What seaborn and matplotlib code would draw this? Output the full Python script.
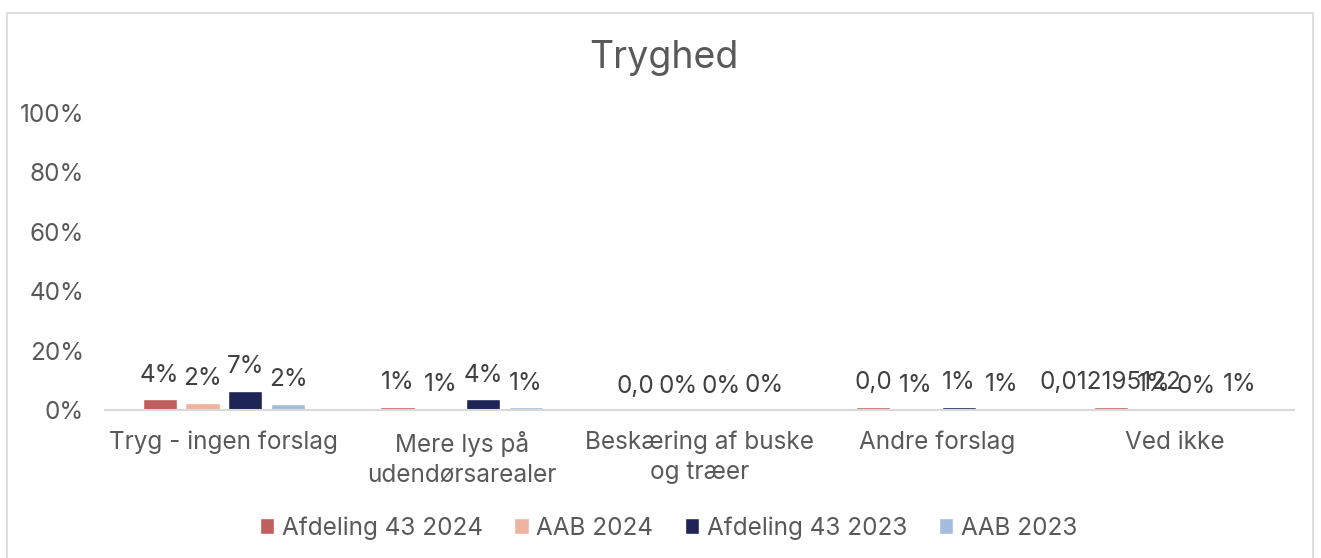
import pandas as pd
import matplotlib.pyplot as plt
import seaborn as sns
from matplotlib.patches import Rectangle

# Data (share of answers)
categories = ["Tryg - ingen forslag", "Mere lys på\nudendørsarealer",
              "Beskæring af buske\nog træer", "Andre forslag", "Ved ikke"]
series = ["Afdeling 43 2024", "AAB 2024", "Afdeling 43 2023", "AAB 2023"]
afd_2024 = [0.037, 0.012, 0.0, 0.012, 0.012]
aab_2024 = [0.024, 0.006, 0.0, 0.003, 0.004]
afd_2023 = [0.065, 0.037, 0.0, 0.012, 0.0]
aab_2023 = [0.022, 0.010, 0.001, 0.005, 0.005]
labels_afd_2024 = ["4%", "1%", "0,0", "0,0", "0,012195122"]
labels_aab_2024 = ["2%", "1%", "0%", "1%", "1%"]
labels_afd_2023 = ["7%", "4%", "0%", "1%", "0%"]
labels_aab_2023 = ["2%", "1%", "0%", "1%", "1%"]
colors = ["#C0605E", "#EEB4A0", "#1E2456", "#A4BCDE"]

values = [afd_2024, aab_2024, afd_2023, aab_2023]
bar_labels = [labels_afd_2024, labels_aab_2024, labels_afd_2023, labels_aab_2023]

rows = []
for s, vals in zip(series, values):
    for c, v in zip(categories, vals):
        rows.append({"Kategori": c, "Serie": s, "Andel": v})
df = pd.DataFrame(rows)

sns.set_style("white")
plt.rcParams["font.family"] = ["Inter", "DejaVu Sans"]
text_color = "#595959"

fig = plt.figure(figsize=(13.21, 5.58), dpi=100)
ax = fig.add_axes([0.0795, 0.265, 0.9, 0.5325])

sns.barplot(data=df, x="Kategori", y="Andel", hue="Serie", hue_order=series,
            order=categories, palette=colors, width=0.72, gap=0.2,
            saturation=1, ax=ax, legend=True)

for cont, labs in zip(ax.containers, bar_labels):
    ax.bar_label(cont, labels=labs, padding=9, fontsize=17.5, color="#404040")

ax.set_ylim(0, 1)
ax.set_yticks([0, 0.2, 0.4, 0.6, 0.8, 1.0])
ax.set_yticklabels(["0%", "20%", "40%", "60%", "80%", "100%"])
ax.set_xlabel("")
ax.set_ylabel("")
ax.tick_params(axis="both", length=0, labelsize=17.5, colors=text_color)
ax.tick_params(axis="x", pad=15)
ax.tick_params(axis="y", pad=15)
for lab in ax.get_xticklabels():
    lab.set_linespacing(1.35)
for side in ["top", "right", "left"]:
    ax.spines[side].set_visible(False)
ax.spines["bottom"].set_color("#D9D9D9")
ax.spines["bottom"].set_linewidth(1.5)

fig.text(0.5027, 0.896, "Tryghed", fontsize=27, color=text_color,
         ha="center", va="center")

handles, labels = ax.get_legend_handles_labels()
ax.get_legend().remove()
fig.legend(handles, labels, loc="center", bbox_to_anchor=(0.506, 0.054), ncol=4,
           frameon=False, fontsize=17.5, handlelength=0.6, handleheight=0.6,
           handletextpad=0.3, columnspacing=1.3, labelcolor=text_color)

# light chart border
fig.patches.append(Rectangle((0.005, -0.01), 0.989, 0.987, transform=fig.transFigure,
                             fill=False, edgecolor="#D9D9D9", linewidth=1.2))

fig.savefig("out.png", dpi=100)
